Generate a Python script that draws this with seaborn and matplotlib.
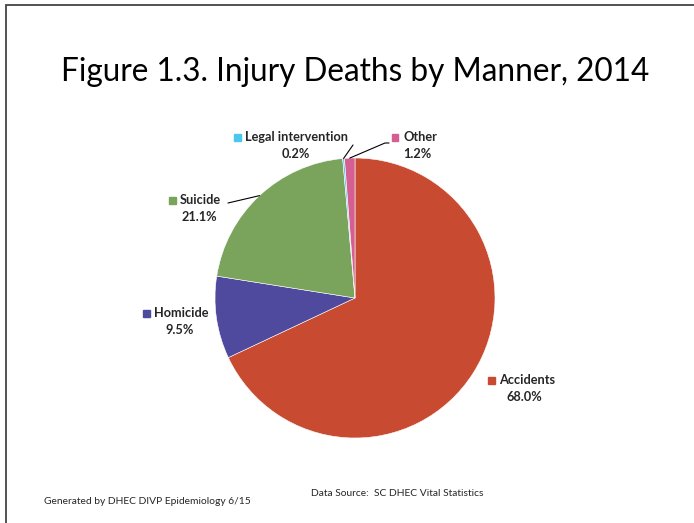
import numpy as np
import matplotlib
matplotlib.use("Agg")
import matplotlib.pyplot as plt
import seaborn as sns
from matplotlib.patches import Rectangle
from matplotlib.lines import Line2D

# data
manners = ["Accidents", "Homicide", "Suicide", "Legal intervention", "Other"]
percents = [68.0, 9.5, 21.1, 0.2, 1.2]
colors = ["#C84B31", "#4F4A9D", "#7AA35B", "#4BC6EC", "#D55F92"]

sns.set_theme(style="white")
plt.rcParams["font.family"] = ["Lato", "DejaVu Sans"]

W, H = 694, 523
fig = plt.figure(figsize=(W / 100, H / 100), dpi=100)


def px(x, y):
    # pixel position (from top left) -> figure fraction
    return x / W, 1 - y / H


# frame around the slide
fig.patches.append(Rectangle(px(6, 530), (W + 10) / W, 525 / H, transform=fig.transFigure,
                             fill=False, edgecolor="#444444", linewidth=1.3))

cx, cy, r = 355, 298, 140
ax = fig.add_axes([(cx - r) / W, 1 - (cy + r) / H, 2 * r / W, 2 * r / H])
ax.pie(percents, colors=colors, startangle=90, counterclock=False,
       wedgeprops=dict(linewidth=0.4, edgecolor="white"))
ax.set_xlim(-1, 1)
ax.set_ylim(-1, 1)

fig.text(*px(355, 72), "Figure 1.3. Injury Deaths by Manner, 2014", fontsize=22.7,
         ha="center", va="center", color="black")

# label positions (marker x, text centre y, value centre x)
label_pos = {
    "Accidents": (491, 380, 524),
    "Homicide": (146, 313, 180),
    "Suicide": (172, 200, 199),
    "Legal intervention": (237, 137, 296),
    "Other": (395, 137, 417),
}
for name, pct, col in zip(manners, percents, colors):
    mx, my, vx = label_pos[name]
    fig.patches.append(Rectangle(px(mx - 3.5, my + 3.5), 7 / W, 7 / H,
                                 transform=fig.transFigure, color=col))
    fig.text(*px(mx + 8, my), name, fontsize=9.2, fontweight="bold",
             ha="left", va="center")
    fig.text(*px(vx, my + 17), f"{pct:.1f}%", fontsize=9.2, fontweight="bold",
             ha="center", va="center")

# leader lines from wedge edge
cum = np.cumsum([0] + percents)
mid = {n: (cum[i] + cum[i + 1]) / 2 for i, n in enumerate(manners)}
leader_ends = {
    "Suicide": [(228, 203)],
    "Legal intervention": [(353, 145)],
    "Other": [(385, 143), (389, 143)],
}
for name, pts in leader_ends.items():
    ang = np.deg2rad(mid[name] / 100 * 360)
    ex, ey = cx + r * np.sin(ang), cy - r * np.cos(ang)
    xs, ys = zip(*[px(ex, ey)] + [px(x, y) for x, y in pts])
    fig.lines.append(Line2D(xs, ys, transform=fig.transFigure, color="black", linewidth=0.8))

fig.text(*px(44, 502), "Generated by DHEC DIVP Epidemiology 6/15", fontsize=7.4,
         ha="left", va="center")
fig.text(*px(311, 493), "Data Source:  SC DHEC Vital Statistics", fontsize=7.4,
         ha="left", va="center")

fig.savefig("out.png", dpi=100, facecolor="white")
